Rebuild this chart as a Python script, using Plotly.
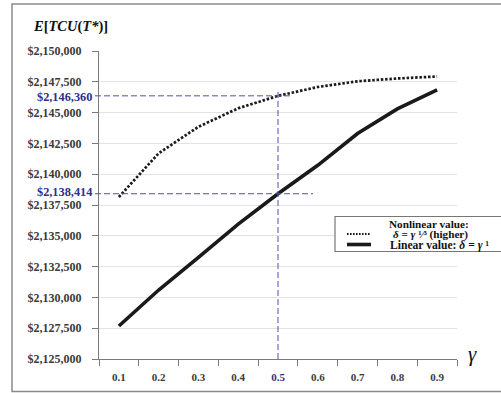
import plotly.graph_objects as go

gamma = [0.1, 0.2, 0.3, 0.4, 0.5, 0.6, 0.7, 0.8, 0.9]
nonlinear_value = [2138150, 2141700, 2143850, 2145350, 2146360, 2147080, 2147540, 2147770, 2147930]
linear_value = [2127680, 2130600, 2133250, 2135950, 2138414, 2140720, 2143300, 2145300, 2146850]
ref_gamma = 0.5
ref_nonlinear = 2146360
ref_linear = 2138414
y_ticks = list(range(2125000, 2150001, 2500))
y_tick_text = ["${:,}".format(v) for v in y_ticks]
x_tick_text = ["0.1", "0.2", "0.3", "0.4", "<span style='color:#2e2e8c'>0.5</span>", "0.6", "0.7", "0.8", "0.9"]

W, H = 501, 393
L, R, T, B = 99, 457, 51, 359
def px(x):
    return (x - L) / (R - L)
def py(y):
    return (B - y) / (B - T)

SERIF = "Liberation Serif, Times New Roman, serif"
BLUE_TXT = "#2e2e8c"
BLUE_LN = "#5050b0"
AX = "#7a7a7a"

fig = go.Figure()
fig.add_trace(go.Scatter(x=gamma, y=nonlinear_value, mode="lines",
                         line=dict(color="#1a1a1a", width=2.7, dash="2.5px,1.8px"),
                         showlegend=False, hoverinfo="skip"))
fig.add_trace(go.Scatter(x=gamma, y=linear_value, mode="lines",
                         line=dict(color="#1a1a1a", width=3.6),
                         showlegend=False, hoverinfo="skip"))

shapes = []
# outer frame
shapes.append(dict(type="rect", xref="paper", yref="paper", x0=px(12), x1=px(506), y0=py(391.5), y1=py(4),
                   line=dict(color="#8a8a8a", width=1.5), fillcolor="rgba(0,0,0,0)", layer="above"))
# dashed reference lines
shapes.append(dict(type="line", xref="paper", yref="y", x0=px(95), x1=px(290), y0=ref_nonlinear, y1=ref_nonlinear,
                   line=dict(color=BLUE_LN, width=1, dash="6px,3px")))
shapes.append(dict(type="line", xref="paper", yref="y", x0=px(95), x1=px(313), y0=ref_linear, y1=ref_linear,
                   line=dict(color=BLUE_LN, width=1, dash="6px,3px")))
shapes.append(dict(type="line", xref="x", yref="paper", x0=ref_gamma, x1=ref_gamma, y0=0, y1=py(90),
                   line=dict(color=BLUE_LN, width=1, dash="6px,3px")))
# legend box
shapes.append(dict(type="rect", xref="paper", yref="paper", x0=px(335), x1=px(512), y0=py(251.5), y1=py(216.5),
                   line=dict(color="#777777", width=1.2), fillcolor="white"))
shapes.append(dict(type="line", xref="paper", yref="paper", x0=px(347), x1=px(371), y0=py(234), y1=py(234),
                   line=dict(color="#1a1a1a", width=2, dash="1.6px,1.4px")))
shapes.append(dict(type="line", xref="paper", yref="paper", x0=px(347), x1=px(371), y0=py(244.5), y1=py(244.5),
                   line=dict(color="#1a1a1a", width=3.6)))

annotations = []
annotations.append(dict(text="<b><i>E</i>[<i>TCU</i>(<i>T*</i>)]</b>", xref="paper", yref="paper",
                        x=px(31), y=py(27), xanchor="left", yanchor="middle", showarrow=False,
                        font=dict(family=SERIF, size=14.5, color="#111111")))
annotations.append(dict(text="<b>$2,146,360</b>", xref="paper", yref="y", x=px(94), y=ref_nonlinear,
                        xanchor="right", yanchor="middle", yshift=-1, showarrow=False,
                        font=dict(family=SERIF, size=12.3, color=BLUE_TXT)))
annotations.append(dict(text="<b>$2,138,414</b>", xref="paper", yref="y", x=px(94), y=ref_linear,
                        xanchor="right", yanchor="middle", yshift=2, showarrow=False,
                        font=dict(family=SERIF, size=12.3, color=BLUE_TXT)))
annotations.append(dict(text="<i>γ</i>", xref="paper", yref="paper", x=px(472), y=py(354),
                        xanchor="center", yanchor="middle", showarrow=False,
                        font=dict(family=SERIF, size=21, color="#111111")))
annotations.append(dict(text="<b>Nonlinear value:</b>", xref="paper", yref="paper", x=px(429), y=py(223.5),
                        xanchor="center", yanchor="middle", showarrow=False,
                        font=dict(family=SERIF, size=11.2, color="#111111")))
annotations.append(dict(text="<b><i>δ</i> = <i>γ</i> ¹⁄³ (higher)</b>", xref="paper", yref="paper",
                        x=px(430), y=py(234.2), xanchor="center", yanchor="middle", showarrow=False,
                        font=dict(family=SERIF, size=11.2, color="#111111")))
annotations.append(dict(text="<b>Linear value: <i>δ</i> = <i>γ</i> ¹</b>", xref="paper", yref="paper",
                        x=px(388), y=py(245.2), xanchor="left", yanchor="middle", showarrow=False,
                        font=dict(family=SERIF, size=11.6, color="#111111")))

fig.update_layout(
    width=W, height=H,
    margin=dict(l=L, r=W - R, t=T, b=H - B, pad=0),
    paper_bgcolor="white", plot_bgcolor="white",
    shapes=shapes, annotations=annotations,
    showlegend=False,
    xaxis=dict(range=[0.05, 0.95], tickvals=gamma, ticktext=x_tick_text, automargin=False,
               ticks="outside", ticklen=0, tickcolor=AX,
               minor=dict(tickvals=[round(0.05 + 0.1 * i, 2) for i in range(10)], ticks="outside",
                          ticklen=6, tickcolor=AX, tickwidth=1, showgrid=False),
               showline=True, linecolor=AX, linewidth=1.2, showgrid=False, zeroline=False,
               ticklabelstandoff=8,
               tickfont=dict(family=SERIF, size=11, color="#3a3a3a", weight="bold")),
    yaxis=dict(range=[2125000, 2150000], tickvals=y_ticks, ticktext=y_tick_text, automargin=False,
               ticks="outside", ticklen=6, tickcolor=AX,
               showline=True, linecolor=AX, linewidth=1.2, showgrid=True, gridcolor="#e3e3e3", gridwidth=1,
               zeroline=False, ticklabelstandoff=8,
               tickfont=dict(family=SERIF, size=12, color="#3a3a3a", weight="bold")),
)
fig.write_html("out.html", config={"displayModeBar": False},
               post_script="document.body.style.margin='0';document.body.style.padding='0';")
